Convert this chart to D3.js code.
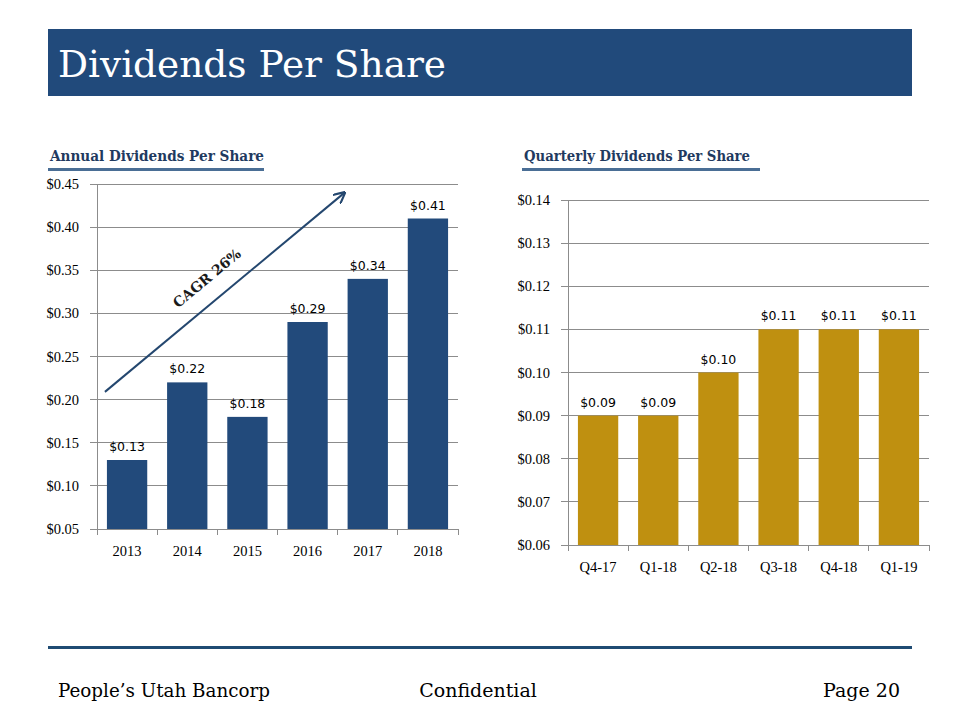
<!DOCTYPE html>
<html><head><meta charset="utf-8">
<script src="https://cdn.jsdelivr.net/npm/d3@7"></script>
<style>body{margin:0;background:#fff}svg{display:block}</style>
</head><body>
<svg id="c" width="960" height="720"></svg>
<script>
const annualCats = ["2013","2014","2015","2016","2017","2018"];
const annualVals = [0.13,0.22,0.18,0.29,0.34,0.41];
const annualTicks = [0.05,0.10,0.15,0.20,0.25,0.30,0.35,0.40,0.45];
const quarterCats = ["Q4-17","Q1-18","Q2-18","Q3-18","Q4-18","Q1-19"];
const quarterVals = [0.09,0.09,0.10,0.11,0.11,0.11];
const quarterTicks = [0.06,0.07,0.08,0.09,0.10,0.11,0.12,0.13,0.14];

const SERIF = "'DejaVu Serif', 'Liberation Serif', serif";
const LSERIF = "'Liberation Serif', 'DejaVu Serif', serif";
const SANS = "'DejaVu Sans', Verdana, sans-serif";
const svg = d3.select("#c");

// Title bar
svg.append("rect").attr("x",48).attr("y",29).attr("width",864).attr("height",67).attr("fill","#214A7B");
svg.append("text").attr("x",58).attr("y",77).attr("fill","#fff").attr("font-family",SERIF)
  .attr("font-size",38).attr("textLength",388).attr("lengthAdjust","spacingAndGlyphs").text("Dividends Per Share");

// Footer
svg.append("rect").attr("x",48).attr("y",646).attr("width",864).attr("height",3).attr("fill","#1F4B73");
const foot = svg.append("g").attr("font-family",SERIF).attr("font-size",19).attr("fill","#000");
foot.append("text").attr("x",58).attr("y",697).attr("textLength",212).attr("lengthAdjust","spacingAndGlyphs").text("People\u2019s Utah Bancorp");
foot.append("text").attr("x",478).attr("y",697).attr("text-anchor","middle").text("Confidential");
foot.append("text").attr("x",900).attr("y",697).attr("text-anchor","end").text("Page 20");

function subtitle(x, text, x2, len){
  svg.append("text").attr("x",x).attr("y",161).attr("font-family",SERIF).attr("font-weight","bold")
    .attr("font-size",14).attr("fill","#1F3A60").attr("textLength",len).attr("lengthAdjust","spacingAndGlyphs").text(text);
  svg.append("rect").attr("x",x-2).attr("y",168).attr("width",x2-x+2).attr("height",3).attr("fill","#4A6E95");
}
subtitle(50, "Annual  Dividends Per Share", 264, 214);
subtitle(524, "Quarterly Dividends Per Share", 760, 226);

function chart(opts){
  const {cats, vals, ticks, x0, x1, y0, y1, color, fmtTick} = opts;
  const x = d3.scaleBand().domain(cats).range([x0,x1]).paddingInner(0.33).paddingOuter(0.165);
  const y = d3.scaleLinear().domain([ticks[0], ticks[ticks.length-1]]).range([y1,y0]);
  const g = svg.append("g");
  g.selectAll(".grid").data(ticks).join("line")
    .attr("x1",x0-7).attr("x2",x1).attr("y1",d=>y(d)).attr("y2",d=>y(d))
    .attr("stroke","#8c8c8c").attr("stroke-width",1).attr("shape-rendering","crispEdges");
  g.append("line").attr("x1",x0).attr("x2",x0).attr("y1",y0).attr("y2",y1+6)
    .attr("stroke","#8c8c8c").attr("shape-rendering","crispEdges");
  g.selectAll(".yl").data(ticks).join("text")
    .attr("x",x0-18).attr("y",d=>y(d)+5).attr("text-anchor","end")
    .attr("font-family",LSERIF).attr("font-size",14.5).attr("fill","#000")
    .text(fmtTick);
  const bounds = d3.range(cats.length+1).map(i=>x0 + i*(x1-x0)/cats.length);
  g.selectAll(".xt").data(bounds).join("line")
    .attr("x1",d=>d).attr("x2",d=>d).attr("y1",y1).attr("y2",y1+6)
    .attr("stroke","#8c8c8c").attr("shape-rendering","crispEdges");
  g.selectAll(".bar").data(vals).join("rect")
    .attr("x",(d,i)=>x(cats[i])).attr("width",x.bandwidth())
    .attr("y",d=>y(d)).attr("height",d=>y1-y(d)).attr("fill",color);
  g.selectAll(".dl").data(vals).join("text")
    .attr("x",(d,i)=>x(cats[i])+x.bandwidth()/2).attr("y",d=>y(d)-9)
    .attr("text-anchor","middle").attr("font-family",SANS).attr("font-size",12.5).attr("fill","#000")
    .text(d=>"$"+d.toFixed(2));
  g.selectAll(".xl").data(cats).join("text")
    .attr("x",d=>x(d)+x.bandwidth()/2).attr("y",y1+27)
    .attr("text-anchor","middle").attr("font-family",LSERIF).attr("font-size",14.5).attr("fill","#000")
    .text(d=>d);
  return {x,y};
}

const a = chart({cats:annualCats, vals:annualVals, ticks:annualTicks, x0:97, x1:458, y0:184, y1:529,
  color:"#224A7B", fmtTick:d=>"$"+d.toFixed(2)});
chart({cats:quarterCats, vals:quarterVals, ticks:quarterTicks, x0:568, x1:929, y0:200, y1:545,
  color:"#BF9010", fmtTick:d=>"$"+d.toFixed(2)});

// CAGR arrow annotation
const defs = svg.append("defs");
defs.append("marker").attr("id","ah").attr("viewBox","0 0 10 10").attr("refX",9).attr("refY",5)
  .attr("markerWidth",6).attr("markerHeight",6).attr("orient","auto")
  .append("path").attr("d","M0,0 L10,5 L0,10").attr("fill","none").attr("stroke","#24476F").attr("stroke-width",1.8);
const ax1 = a.x("2013") - 2, ay1 = a.y(0.209);
const ax2 = a.x("2017") - 3, ay2 = a.y(0.44);
svg.append("line").attr("x1",ax1).attr("y1",ay1).attr("x2",ax2).attr("y2",ay2)
  .attr("stroke","#24476F").attr("stroke-width",2).attr("marker-end","url(#ah)");
const ang = Math.atan2(ay2-ay1, ax2-ax1)*180/Math.PI;
svg.append("text").attr("transform",`translate(210,282) rotate(${ang})`)
  .attr("text-anchor","middle").attr("font-family",SERIF).attr("font-weight","bold")
  .attr("font-size",14).attr("fill","#1a1a1a").text("CAGR 26%");
</script>
</body></html>
